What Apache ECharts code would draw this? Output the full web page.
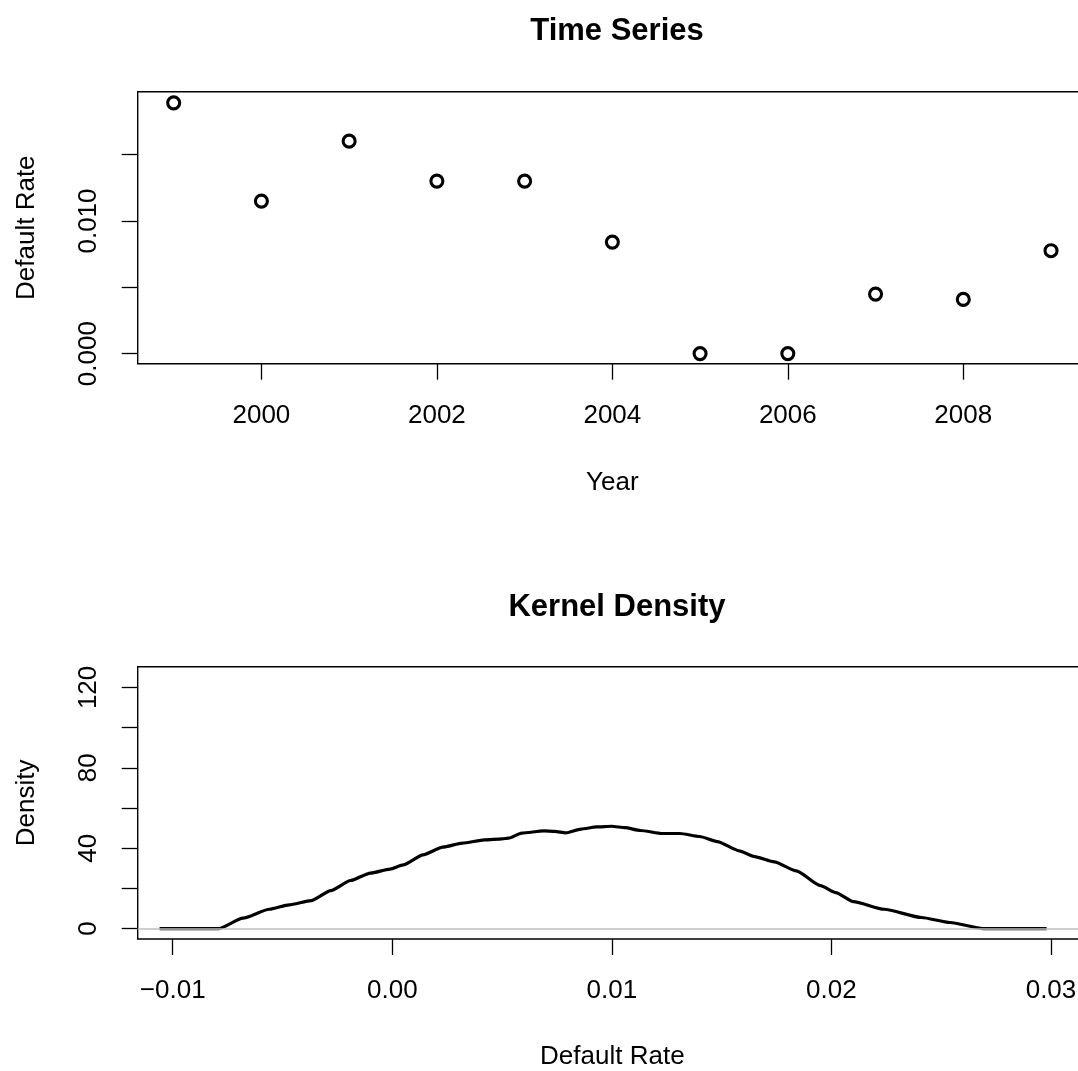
<!DOCTYPE html>
<html>
<head>
<meta charset="utf-8">
<script src="https://cdn.jsdelivr.net/npm/echarts@6/dist/echarts.min.js"></script>
<style>
html,body{margin:0;padding:0;background:#fff;}
#chart{width:1078px;height:1071px;}
</style>
</head>
<body>
<div id="chart"></div>
<script>
// ---- Data ----
const years = [1999, 2000, 2001, 2002, 2003, 2004, 2005, 2006, 2007, 2008, 2009];
const defaultRates = [0.01891, 0.01150, 0.01602, 0.01301, 0.01301, 0.00841, 0.0, 0.0, 0.00449, 0.00409, 0.00776];

const densityX = [-0.0106, -0.0079, -0.0068, -0.0056, -0.0047, -0.0037, -0.0028, -0.0019, -0.0010, -0.0001,
  0.0005, 0.0014, 0.0023, 0.0032, 0.0042, 0.0050, 0.0053, 0.0059, 0.0069, 0.0074, 0.0079, 0.0086, 0.0093,
  0.0100, 0.0106, 0.0113, 0.0123, 0.0131, 0.0140, 0.0148, 0.0158, 0.0165, 0.0174, 0.0184, 0.0195, 0.0202,
  0.0210, 0.0224, 0.0241, 0.0254, 0.0269, 0.0298];
const densityY = [0, 0, 5.2, 9.6, 11.8, 13.9, 18.9, 23.9, 27.6, 29.6,
  31.7, 36.7, 40.5, 42.5, 44.1, 44.6, 45.0, 47.5, 48.6, 48.4, 47.6, 49.5, 50.6,
  50.9, 50.2, 48.8, 47.3, 47.3, 45.8, 43.3, 38.7, 35.8, 33.2, 28.7, 21.4, 17.9,
  13.4, 9.6, 5.5, 3.0, 0, 0];

const tsXTicks = [2000, 2002, 2004, 2006, 2008];
const tsYTicks = [0, 0.005, 0.010, 0.015];
const tsYLabels = [0, 0.010];
const kdXTicks = [-0.01, 0.00, 0.01, 0.02, 0.03];
const kdYTicks = [0, 20, 40, 60, 80, 100, 120];
const kdYLabels = [0, 40, 80, 120];

// ---- Chart ----
const FONT = '"Liberation Sans", Arial, Helvetica, sans-serif';
const chart = echarts.init(document.getElementById('chart'), null, {renderer: 'canvas'});

const tickStyle = {show: true, inside: false, length: 16, lineStyle: {color: '#000', width: 1.3}};
const labelBase = {color: '#000', fontSize: 26, fontFamily: FONT};
const nameBase = {color: '#000', fontSize: 26, fontFamily: FONT};
const noLine = {show: false, onZero: false};

function fmtMinus(s) { return s.replace('-', '\u2212'); }

const option = {
  backgroundColor: '#fff',
  animation: false,
  title: [
    {text: 'Time Series', left: 612, top: 11, textAlign: 'center',
     textStyle: {fontSize: 31, fontWeight: 'bold', color: '#000', fontFamily: FONT}},
    {text: 'Kernel Density', left: 612, top: 586.5, textAlign: 'center',
     textStyle: {fontSize: 31, fontWeight: 'bold', color: '#000', fontFamily: FONT}}
  ],
  grid: [
    {left: 137.7, top: 91.7, right: -9, height: 272, show: true, borderColor: '#000', borderWidth: 1.4,
     backgroundColor: 'transparent', outerBoundsMode: 'none', containLabel: false},
    {left: 137.7, top: 666.7, right: -9, height: 272.3, show: true, borderColor: '#000', borderWidth: 1.4,
     backgroundColor: 'transparent', outerBoundsMode: 'none', containLabel: false}
  ],
  xAxis: [
    {gridIndex: 0, type: 'value', min: 1998.59, max: 2009.41,
     axisLine: noLine, splitLine: {show: false},
     axisTick: Object.assign({customValues: tsXTicks}, tickStyle),
     axisLabel: Object.assign({customValues: tsXTicks, margin: 39, formatter: v => String(Math.round(v))}, labelBase),
     name: 'Year', nameLocation: 'middle', nameGap: 106, nameTextStyle: nameBase},
    {gridIndex: 1, type: 'value', min: -0.011595, max: 0.03164,
     axisLine: noLine, splitLine: {show: false},
     axisTick: Object.assign({customValues: kdXTicks}, tickStyle),
     axisLabel: Object.assign({customValues: kdXTicks, margin: 39, formatter: v => fmtMinus(v.toFixed(2))}, labelBase),
     name: 'Default Rate', nameLocation: 'middle', nameGap: 105, nameTextStyle: nameBase}
  ],
  yAxis: [
    {gridIndex: 0, type: 'value', min: -0.00076, max: 0.01975,
     axisLine: noLine, splitLine: {show: false},
     axisTick: Object.assign({customValues: tsYTicks}, tickStyle),
     axisLabel: Object.assign({customValues: tsYLabels, margin: 36, rotate: 90, formatter: v => v.toFixed(3)}, labelBase),
     name: 'Default Rate', nameLocation: 'middle', nameGap: 98, nameRotate: 90, nameTextStyle: nameBase},
    {gridIndex: 1, type: 'value', min: -5.2, max: 130.3,
     axisLine: noLine, splitLine: {show: false},
     axisTick: Object.assign({customValues: kdYTicks}, tickStyle),
     axisLabel: Object.assign({customValues: kdYLabels, margin: 36, rotate: 90, formatter: v => String(Math.round(v))}, labelBase),
     name: 'Density', nameLocation: 'middle', nameGap: 98, nameRotate: 90, nameTextStyle: nameBase}
  ],
  series: [
    {type: 'scatter', xAxisIndex: 0, yAxisIndex: 0,
     data: years.map((y, i) => [y, defaultRates[i]]),
     symbol: 'circle', symbolSize: 12,
     itemStyle: {color: 'rgba(255,255,255,0)', borderColor: '#000', borderWidth: 3.1, opacity: 1},
     emphasis: {disabled: true}, z: 3},
    {type: 'line', xAxisIndex: 1, yAxisIndex: 1, data: [], z: 1, silent: true,
     markLine: {silent: true, symbol: ['none', 'none'], label: {show: false},
       lineStyle: {color: '#bebebe', width: 1.5, type: 'solid'},
       emphasis: {disabled: true},
       data: [{yAxis: 0}]}},
    {type: 'line', xAxisIndex: 1, yAxisIndex: 1,
     data: densityX.map((x, i) => [x, densityY[i]]),
     showSymbol: false, smooth: 0.2, smoothMonotone: 'x',
     lineStyle: {color: '#000', width: 3.2}, z: 3, emphasis: {disabled: true}}
  ]
};
chart.setOption(option);
</script>
</body>
</html>
